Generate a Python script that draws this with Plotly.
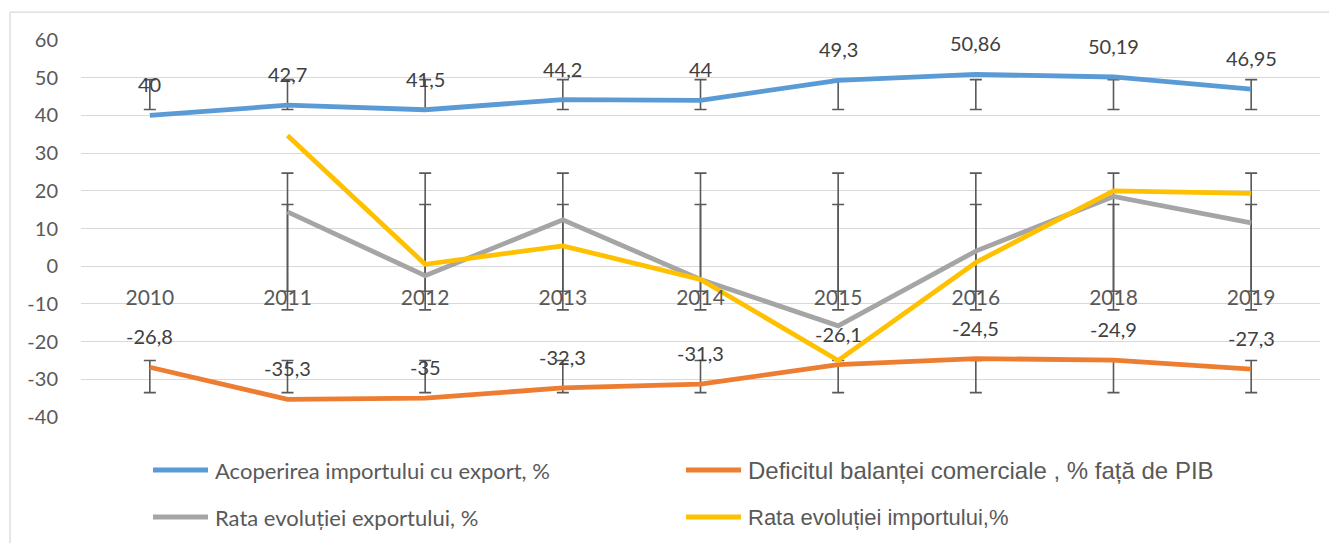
import plotly.graph_objects as go
import numpy as np

# Data
years = ["2010", "2011", "2012", "2013", "2014", "2015", "2016", "2018", "2019"]
acoperire = [40, 42.7, 41.5, 44.2, 44, 49.3, 50.86, 50.19, 46.95]
deficit = [-26.8, -35.3, -35, -32.3, -31.3, -26.1, -24.5, -24.9, -27.3]
rata_export = [None, 14.4, -2.5, 12.3, -3.5, -15.8, 4, 18.5, 11.5]
rata_import = [None, 34.7, 0.5, 5.4, -3.5, -25, 1, 20, 19.3]

y_ticks = [-40, -30, -20, -10, 0, 10, 20, 30, 40, 50, 60]

names = [
    "Acoperirea importului cu export, %",
    "Deficitul balanței comerciale , % față de PIB",
    "Rata evoluției exportului, %",
    "Rata evoluției importului,%",
]
colors = ["#5B9BD5", "#ED7D31", "#A5A5A5", "#FFC000"]
series = [acoperire, deficit, rata_export, rata_import]
labelled = [True, True, False, False]

font_main = "Lato, 'Open Sans', sans-serif"
font_arial = "'Liberation Sans', Arial, sans-serif"

fig = go.Figure()

# Excel style standard deviation error bars: centred on the series mean, +/- 1 sd
for vals in series:
    arr = np.array([np.nan if v is None else v for v in vals], dtype=float)
    mean = np.nanmean(arr)
    sd = np.nanstd(arr, ddof=1)
    xs = [yr for yr, v in zip(years, vals) if v is not None]
    fig.add_trace(go.Scatter(
        x=xs, y=[mean] * len(xs), mode="markers",
        marker=dict(size=1, opacity=0),
        error_y=dict(type="constant", value=sd, color="#595959",
                     thickness=1.6, width=6),
        showlegend=False, hoverinfo="skip"))

# Lines
for name, vals, col in zip(names, series, colors):
    fig.add_trace(go.Scatter(
        x=years, y=vals, mode="lines", name=name,
        line=dict(color=col, width=4.8),
        connectgaps=False, showlegend=False))

# Data labels for the first two series
for vals, lab in zip(series, labelled):
    if not lab:
        continue
    for i, v in enumerate(vals):
        fig.add_annotation(
            x=i, y=v, xref="x", yref="y", text=f"{v:g}".replace(".", ","),
            showarrow=False, yshift=31,
            font=dict(family=font_main, size=20, color="#404040"))

# Hand-built legend (two columns, two rows, long line keys)
leg_cols = [0.0581, 0.4883, 0.0581, 0.4883]
leg_rows = [-0.1406, -0.1406, -0.2653, -0.2653]
leg_fonts = [(font_main, 22), (font_arial, 24), (font_main, 22), (font_arial, 22)]
shapes = []
for name, col, lx, ly, (fam, fs) in zip(names, colors, leg_cols, leg_rows, leg_fonts):
    shapes.append(dict(type="line", xref="paper", yref="paper",
                       x0=lx, x1=lx + 0.0444, y0=ly, y1=ly,
                       line=dict(color=col, width=5)))
    fig.add_annotation(x=lx + 0.0484, y=ly, xref="paper", yref="paper",
                       xanchor="left", yanchor="middle", showarrow=False,
                       text=name, font=dict(family=fam, size=fs, color="#595959"))

# chart frame (top and left edges visible in the crop)
shapes.append(dict(type="line", xref="paper", yref="paper",
                   x0=-0.0573, x1=1.2, y0=1.074, y1=1.074,
                   line=dict(color="#D9D9D9", width=1.3)))
shapes.append(dict(type="line", xref="paper", yref="paper",
                   x0=-0.0573, x1=-0.0573, y0=1.074, y1=-0.5,
                   line=dict(color="#D9D9D9", width=1.3)))

zero_pos = (0 - y_ticks[0]) / (y_ticks[-1] - y_ticks[0])

fig.update_layout(
    width=1337, height=543,
    paper_bgcolor="white", plot_bgcolor="white",
    margin=dict(l=73, r=25, t=32, b=134),
    font=dict(family=font_main, color="#595959"),
    showlegend=False,
    shapes=shapes,
    xaxis=dict(
        type="category", range=[-0.5, len(years) - 0.5],
        anchor="free", position=zero_pos,
        showgrid=False, showline=False, zeroline=False, ticks="",
        tickfont=dict(size=21, color="#595959"),
        ticklabelstandoff=17,
    ),
    yaxis=dict(
        range=[y_ticks[0], y_ticks[-1]],
        tickvals=y_ticks, ticktext=[str(t) for t in y_ticks],
        showgrid=True, gridcolor="#D9D9D9", gridwidth=1.3,
        zeroline=False, showline=False, ticks="",
        tickfont=dict(size=20, color="#595959"),
        ticklabelstandoff=22,
    ),
)

fig.write_html("out.html")
